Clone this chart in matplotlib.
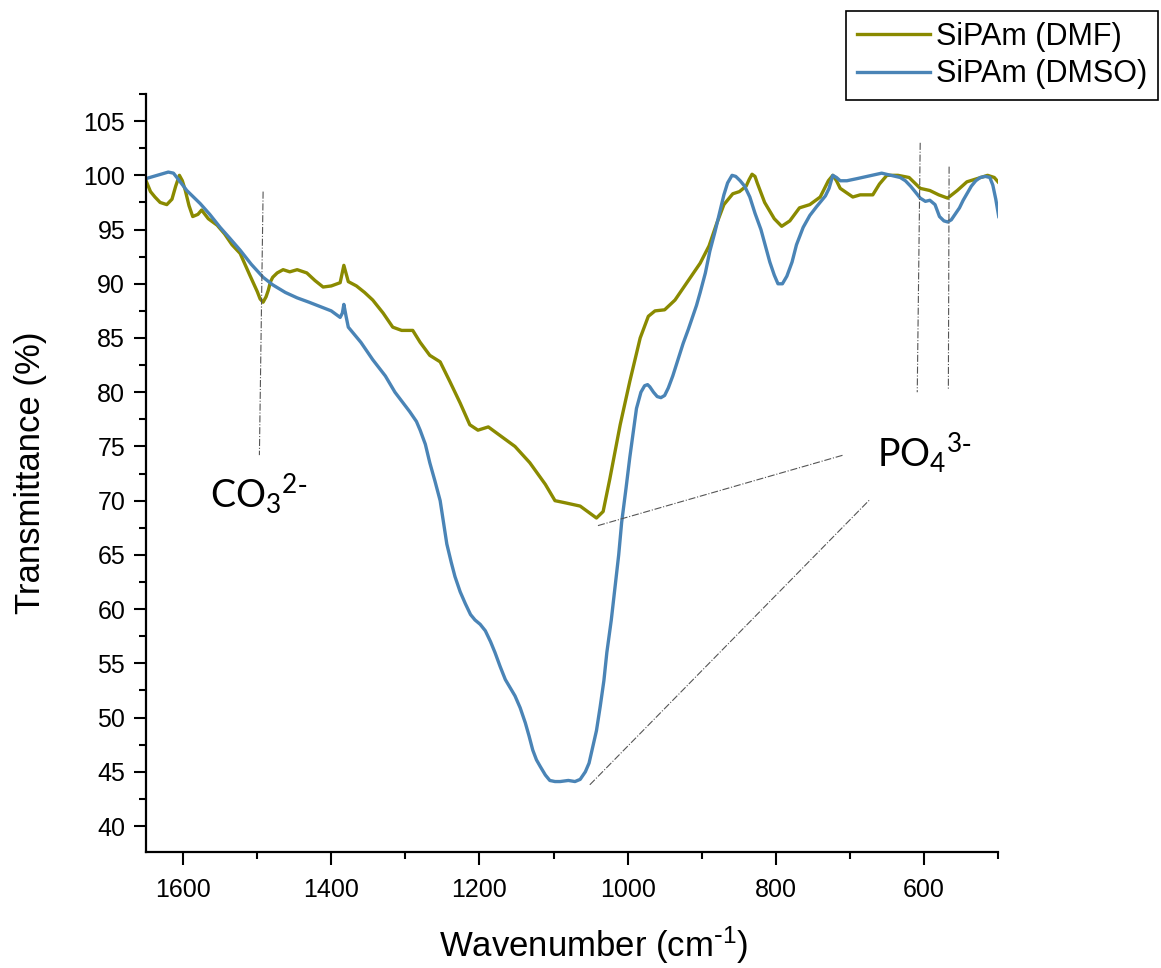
import matplotlib
matplotlib.use('Agg')
import matplotlib.pyplot as plt
from matplotlib.ticker import MultipleLocator

plt.rcParams['font.family'] = ['Liberation Sans', 'DejaVu Sans']
plt.rcParams['mathtext.default'] = 'regular'

# SiPAm (DMF) spectrum
dmf_x = [1650, 1644, 1638, 1631, 1622, 1615, 1610, 1605, 1601, 1597, 1592,
         1587, 1580, 1575, 1566, 1554, 1544, 1534, 1523, 1510, 1500, 1496,
         1492, 1488, 1485, 1482, 1479, 1473, 1465, 1456, 1446, 1433, 1422,
         1411, 1400, 1388, 1383, 1377, 1366, 1355, 1344, 1330, 1317, 1305,
         1290, 1280, 1267, 1253, 1240, 1226, 1213, 1202, 1188, 1172, 1152,
         1132, 1111, 1098, 1084, 1064, 1050, 1042, 1033, 1024, 1010, 997,
         983, 972, 963, 950, 936, 916, 902, 890, 880, 870, 858, 849, 840,
         836, 832, 828, 825, 815, 802, 792, 781, 768, 754, 740, 729, 723,
         718, 713, 696, 686, 669, 660, 650, 635, 620, 605, 592, 580, 568,
         555, 542, 528, 514, 505, 500]
dmf_y = [99.5, 98.5, 98.0, 97.5, 97.3, 97.8, 99.0, 100.0, 99.5, 98.6, 97.2,
         96.2, 96.4, 96.8, 96.0, 95.4, 94.6, 93.6, 92.8, 90.8, 89.3, 88.6,
         88.3, 88.8, 89.4, 90.2, 90.6, 91.0, 91.3, 91.1, 91.3, 91.0, 90.3,
         89.7, 89.8, 90.1, 91.7, 90.2, 89.8, 89.2, 88.5, 87.3, 86.0, 85.7,
         85.7, 84.6, 83.4, 82.8, 81.0, 79.0, 77.0, 76.5, 76.8, 76.0, 75.0,
         73.5, 71.5, 70.0, 69.8, 69.5, 68.8, 68.4, 69.0, 72.0, 77.0, 81.0,
         85.0, 87.0, 87.5, 87.6, 88.5, 90.5, 91.9, 93.5, 95.5, 97.3, 98.3,
         98.5, 99.0, 99.6, 100.1, 99.9, 99.3, 97.5, 96.0, 95.3, 95.8, 97.0,
         97.3, 98.0, 99.5, 100.0, 99.5, 98.8, 98.0, 98.2, 98.2, 99.2, 100.0,
         100.0, 99.8, 98.8, 98.6, 98.2, 97.9, 98.6, 99.4, 99.7, 100.0, 99.8,
         99.4]

# SiPAm (DMSO) spectrum
dmso_x = [1650, 1635, 1620, 1613, 1605, 1595, 1577, 1564, 1550, 1537,
          1523, 1508, 1492, 1479, 1462, 1446, 1430, 1415, 1400, 1388, 1385,
          1383, 1380, 1377, 1360, 1344, 1327, 1314, 1294, 1285, 1280, 1273,
          1267, 1260, 1253, 1248, 1244, 1238, 1233, 1226, 1219, 1212, 1206,
          1199, 1192, 1185, 1179, 1172, 1165, 1158, 1152, 1145, 1138, 1133,
          1128, 1123, 1118, 1111, 1105, 1098, 1091, 1080, 1071, 1064, 1057,
          1052, 1048, 1042, 1037, 1032, 1028, 1022, 1017, 1012, 1008, 1002,
          997, 992, 988, 982, 977, 973, 970, 965, 960, 955, 950, 945, 939,
          932, 925, 918, 912, 907, 902, 895, 889, 882, 876, 870, 865, 859,
          854, 848, 842, 835, 828, 820, 814, 808, 802, 797, 791, 785, 778,
          772, 763, 754, 745, 739, 733, 728, 723, 718, 713, 704, 690, 677,
          657, 632, 625, 618, 612, 605, 598, 592, 585, 579, 573, 568, 563,
          558, 552, 547, 541, 536, 530, 524, 517, 511, 507, 503, 499]
dmso_y = [99.7, 100.0, 100.3, 100.2, 99.5, 98.6, 97.4, 96.4, 95.2, 94.2,
          93.1, 91.8, 90.6, 89.9, 89.2, 88.7, 88.3, 87.9, 87.5, 86.9, 87.3,
          88.1, 87.0, 86.0, 84.6, 83.0, 81.5, 80.0, 78.2, 77.3, 76.5, 75.2,
          73.5, 71.8, 70.0, 67.8, 66.0, 64.3, 63.0, 61.6, 60.5, 59.5, 59.0,
          58.6, 58.0, 57.0, 56.0, 54.7, 53.5, 52.7, 52.0, 50.9, 49.5, 48.3,
          47.0, 46.1, 45.5, 44.7, 44.2, 44.1, 44.1, 44.2, 44.1, 44.3, 45.0,
          45.8, 47.0, 48.8, 51.0, 53.4, 56.0, 59.0, 62.0, 65.0, 68.0, 71.2,
          74.0, 76.5, 78.5, 80.0, 80.6, 80.7, 80.5, 80.0, 79.6, 79.5, 79.7,
          80.4, 81.5, 83.0, 84.5, 85.8, 87.0, 88.0, 89.2, 91.0, 93.0, 94.8,
          96.5, 98.2, 99.3, 100.0, 99.9, 99.5, 99.0, 98.0, 96.5, 95.0, 93.5,
          92.0, 90.8, 90.0, 90.0, 90.7, 92.0, 93.6, 95.2, 96.3, 97.1, 97.6,
          98.1, 98.8, 100.0, 99.8, 99.5, 99.5, 99.7, 99.9, 100.2, 99.8, 99.5,
          99.0, 98.5, 97.9, 97.6, 97.7, 97.3, 96.2, 95.8, 95.7, 95.9, 96.4,
          97.0, 97.7, 98.4, 99.0, 99.5, 99.8, 99.9, 99.8, 99.1, 97.8, 96.2]

x_ticks = [1600, 1400, 1200, 1000, 800, 600]

fig = plt.figure(figsize=(11.61, 9.68), dpi=100)
ax = fig.add_axes([0.1258, 0.1198, 0.7338, 0.7831])

ax.plot(dmf_x, dmf_y, color='#8a8a00', lw=2.4, label='SiPAm (DMF)')
ax.plot(dmso_x, dmso_y, color='#4a84b6', lw=2.4, label='SiPAm (DMSO)')

ax.set_xlim(1650, 500)
ax.set_ylim(37.6, 107.5)
ax.set_xticks(x_ticks)
ax.xaxis.set_minor_locator(MultipleLocator(100))
ax.yaxis.set_minor_locator(MultipleLocator(2.5))
ax.set_yticks(range(40, 106, 5))

for side in ['top', 'right']:
    ax.spines[side].set_visible(False)
for side in ['left', 'bottom']:
    ax.spines[side].set_linewidth(1.6)
ax.tick_params(which='major', direction='out', length=9, width=1.5,
               labelsize=18, pad=6)
ax.tick_params(which='minor', direction='out', length=5, width=1.5)
ax.tick_params(axis='x', pad=10)

ax.set_xlabel(r'Wavenumber (cm$^{\text{-}1}$)', fontsize=25, labelpad=16)
ax.xaxis.label.set_x(0.525)
ax.set_ylabel('Transmittance (%)', fontsize=25, labelpad=26)

# band markers
guide = dict(color='#555555', lw=0.8, ls='-.', clip_on=False)
ax.plot([1492, 1497], [98.5, 74.2], **guide)
ax.plot([605, 609], [103.0, 80.0], **guide)
ax.plot([566, 567], [100.8, 80.2], **guide)
ax.plot([1040, 709], [67.7, 74.2], **guide)
ax.plot([1051, 673], [43.8, 70.1], **guide)

ax.text(1498, 70.6, r'CO$_3$$^{2\text{-}}$', fontsize=27,
        family='Lato', ha='center', va='center')
ax.text(664, 74.4, r'PO$_4$$^{3\text{-}}$', fontsize=27,
        family='Lato', ha='left', va='center', clip_on=False)

leg = fig.legend(loc='upper right', bbox_to_anchor=(1158 / 1161, 1 - 11 / 968),
                 fontsize=22, frameon=True, fancybox=False, edgecolor='black',
                 framealpha=1, borderaxespad=0, handlelength=2.4,
                 handletextpad=0.2, borderpad=0.35, labelspacing=0.25)
leg.get_frame().set_linewidth(1.2)

fig.savefig('out.png', dpi=100)
